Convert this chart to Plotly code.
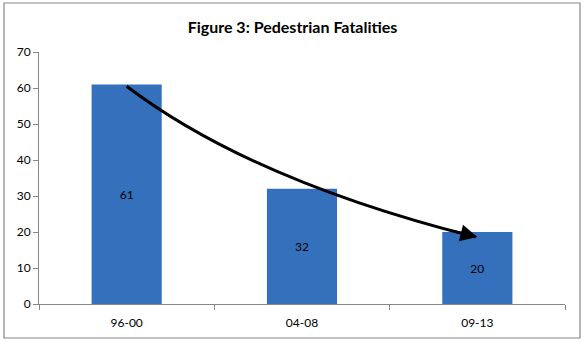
import plotly.graph_objects as go

categories = ["96-00", "04-08", "09-13"]
values = [61, 32, 20]
y_ticks = [0, 10, 20, 30, 40, 50, 60, 70]
title_text = "Figure 3: Pedestrian Fatalities"

x_pos = list(range(len(categories)))

fig = go.Figure()
fig.add_trace(go.Bar(
    x=x_pos, y=values, width=0.4,
    marker=dict(color="#3470BB", line=dict(width=0)),
    text=[str(v) for v in values], textposition="inside",
    insidetextanchor="middle",
    textfont=dict(family="Lato, Liberation Sans, sans-serif", size=12, color="#000000"),
    hoverinfo="skip",
))

# curved arrow from first bar top to last bar
start_y = values[0] - 0.5
end_y = values[2] - 1.4
ctrl = (0.706, 34.4)
fig.add_shape(type="path", xref="x", yref="y",
              path=f"M 0,{start_y} Q {ctrl[0]},{ctrl[1]} 1.99,{end_y}",
              line=dict(color="black", width=3))
fig.add_annotation(x=2.0, y=end_y, xref="x", yref="y", ax=-24, ay=-6,
                   showarrow=True, arrowhead=2, arrowsize=1.3, arrowwidth=2.6,
                   arrowcolor="black", text="")

# chart border
fig.add_shape(type="rect", xref="paper", yref="paper",
              x0=(4 - 39) / 526, x1=(580 - 39) / 526,
              y0=(304 - 338) / 252, y1=(304 - 3) / 252,
              line=dict(color="#868686", width=1.2), fillcolor="rgba(0,0,0,0)",
              layer="below")

fig.update_layout(
    width=585, height=342,
    margin=dict(l=39, r=20, t=52, b=38),
    paper_bgcolor="white", plot_bgcolor="white",
    showlegend=False,
    title=dict(text=f"<b>{title_text}</b>", x=0.5, xanchor="center",
               y=1 - 27 / 342, yanchor="middle",
               font=dict(family="Lato, Liberation Sans, sans-serif", size=16, color="#000000")),
    font=dict(family="Lato, Liberation Sans, sans-serif", size=12, color="#000000"),
    xaxis=dict(
        range=[-0.5, 2.5], tickvals=x_pos, ticktext=categories, ticks="",
        showline=True, linecolor="#868686", linewidth=1, showgrid=False,
        zeroline=False, ticklabelstandoff=8,
        minor=dict(tickvals=[-0.5, 0.5, 1.5, 2.5], ticks="outside", ticklen=5,
                   tickcolor="#868686", showgrid=False),
        fixedrange=True,
    ),
    yaxis=dict(
        range=[0, 70], tickvals=y_ticks, ticks="outside", ticklen=5,
        tickcolor="#868686", showline=True, linecolor="#868686", linewidth=1,
        showgrid=False, zeroline=False, fixedrange=True,
    ),
)

fig.write_html("out.html")
